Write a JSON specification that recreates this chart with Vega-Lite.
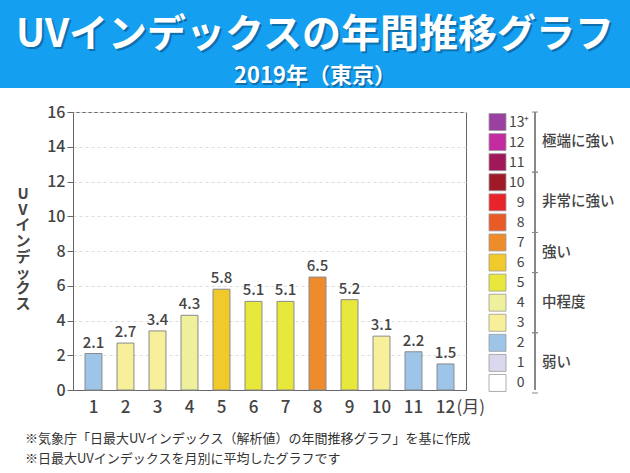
{
  "$schema": "https://vega.github.io/schema/vega-lite/v6.json",
  "background": "white",
  "padding": 0,
  "spacing": 14,
  "config": {"view": {"stroke": null}, "font": "Noto Sans CJK JP"},
  "title": {
    "text": ["※気象庁「日最大UVインデックス（解析値）の年間推移グラフ」を基に作成", "※日最大UVインデックスを月別に平均したグラフです"],
    "orient": "bottom", "anchor": "start", "frame": "group", "dx": 25, "offset": 17,
    "fontSize": 13, "fontWeight": "normal", "color": "#333", "lineHeight": 20
  },
  "datasets": {
    "levels": [
      {"level": 0, "group": "弱い"}, {"level": 1, "group": "弱い"}, {"level": 2, "group": "弱い"},
      {"level": 3, "group": "中程度"}, {"level": 4, "group": "中程度"}, {"level": 5, "group": "中程度"},
      {"level": 6, "group": "強い"}, {"level": 7, "group": "強い"},
      {"level": 8, "group": "非常に強い"}, {"level": 9, "group": "非常に強い"}, {"level": 10, "group": "非常に強い"},
      {"level": 11, "group": "極端に強い"}, {"level": 12, "group": "極端に強い"}, {"level": 13, "group": "極端に強い"}
    ],
    "months": [
      {"month": 1, "uv": 2.1, "level": 2}, {"month": 2, "uv": 2.7, "level": 3}, {"month": 3, "uv": 3.4, "level": 3},
      {"month": 4, "uv": 4.3, "level": 4}, {"month": 5, "uv": 5.8, "level": 6}, {"month": 6, "uv": 5.1, "level": 5},
      {"month": 7, "uv": 5.1, "level": 5}, {"month": 8, "uv": 6.5, "level": 7}, {"month": 9, "uv": 5.2, "level": 5},
      {"month": 10, "uv": 3.1, "level": 3}, {"month": 11, "uv": 2.2, "level": 2}, {"month": 12, "uv": 1.5, "level": 2}
    ]
  },
  "vconcat": [
    {
      "width": 630, "height": 88,
      "view": {"fill": "#149ff0", "stroke": null},
      "data": {"values": [{"row": 1, "text": "UVインデックスの年間推移グラフ"}, {"row": 2, "text": "2019年（東京）"}]},
      "encoding": {
        "y": {"field": "row", "type": "quantitative", "scale": {"domain": [0.17, 2.28], "zero": false, "nice": false, "reverse": true}, "axis": null},
        "text": {"field": "text"}
      },
      "layer": [
        {"transform": [{"filter": "datum.row == 1"}], "mark": {"type": "text", "baseline": "middle", "fontSize": 39, "fontWeight": "bold", "color": "#0a4a78", "opacity": 0.55, "dx": 2, "dy": 2}},
        {"transform": [{"filter": "datum.row == 1"}], "mark": {"type": "text", "baseline": "middle", "fontSize": 39, "fontWeight": "bold", "color": "white"}},
        {"transform": [{"filter": "datum.row == 2"}], "mark": {"type": "text", "baseline": "middle", "fontSize": 22, "fontWeight": "bold", "color": "#0a4a78", "opacity": 0.55, "dx": 1.5, "dy": 1.5}},
        {"transform": [{"filter": "datum.row == 2"}], "mark": {"type": "text", "baseline": "middle", "fontSize": 22, "fontWeight": "bold", "color": "white"}}
      ]
    },
    {
      "spacing": 0,
      "hconcat": [
        {
          "width": 46, "height": 278,
          "data": {"values": [{"t": "UVインデックス"}]},
          "mark": {"type": "text", "baseline": "middle", "fontSize": 15, "fontWeight": "bold", "color": "#444", "lineHeight": 15.7, "dy": -57},
          "encoding": {"text": {"value": ["U", "V", "イ", "ン", "デ", "ッ", "ク", "ス"]}}
        },
        {
          "width": 393, "height": 278,
          "view": {"stroke": "#666", "strokeWidth": 1},
          "data": {"name": "months"},
          "encoding": {
            "x": {"field": "month", "type": "ordinal", "scale": {"paddingInner": 0.47, "paddingOuter": 0.375},
              "axis": {"title": "(月)", "labelAngle": 0, "ticks": false, "domainColor": "#666", "labelFontSize": 17, "labelColor": "#444", "labelFontWeight": 500, "labelPadding": 9,
                "titleX": 383, "titleY": 17, "titleAlign": "left", "titleBaseline": "middle", "titleFontSize": 17, "titleFontWeight": "normal", "titleColor": "#444"}},
            "y": {"field": "uv", "type": "quantitative", "scale": {"domain": [0, 16], "nice": false},
              "axis": {"values": [0, 2, 4, 6, 8, 10, 12, 14, 16], "tickCount": 9, "labelOverlap": false, "title": null, "grid": true, "gridDash": [3, 3], "gridColor": "#dcdcdc", "domainColor": "#666", "tickColor": "#666", "tickSize": 6, "labelPadding": 2, "labelFontSize": 16, "labelColor": "#444", "labelFontWeight": 500}}
          },
          "layer": [
            {
              "mark": {"type": "bar", "stroke": "#8a8a8a", "strokeWidth": 1},
              "encoding": {
                "color": {"field": "level", "type": "ordinal",
                  "scale": {"domain": [0, 1, 2, 3, 4, 5, 6, 7, 8, 9, 10, 11, 12, 13], "range": ["#ffffff", "#d9d8ee", "#9ec4e8", "#f7ef9a", "#eef09c", "#e8e83c", "#f2c92a", "#ee8c2c", "#e85b26", "#e8232a", "#9e1a26", "#a0185a", "#c22ca0", "#9a40a0"]},
                  "legend": null}
              }
            },
            {
              "mark": {"type": "text", "baseline": "bottom", "dy": -3, "fontSize": 15, "color": "#444", "fontWeight": 500},
              "encoding": {
                "text": {"field": "uv", "type": "quantitative", "format": ".1f"}
              }
            }
          ]
        },
        {
          "spacing": 3,
          "hconcat": [
            {
              "width": 25, "height": 278,
              "data": {"name": "levels"},
              "mark": {"type": "square", "size": 289, "filled": true, "opacity": 1, "stroke": "#9a9a9a", "strokeWidth": 0.8},
              "encoding": {
                "y": {"field": "level", "type": "quantitative", "scale": {"domain": [-0.35, 13.5], "zero": false, "nice": false},
                  "axis": {"orient": "right", "values": [0, 1, 2, 3, 4, 5, 6, 7, 8, 9, 10, 11, 12, 13], "labelOverlap": false, "labelExpr": "datum.value == 13 ? '13⁺' : datum.value", "ticks": false, "domain": false, "grid": false, "title": null, "labelAlign": "right",
                    "labelPadding": {"condition": {"test": "datum.value == 13", "value": 19}, "value": 14},
                    "labelFontSize": 14, "labelColor": "#444", "labelBaseline": "middle"}},
                "color": {"field": "level", "type": "ordinal",
                  "scale": {"domain": [0, 1, 2, 3, 4, 5, 6, 7, 8, 9, 10, 11, 12, 13], "range": ["#ffffff", "#d9d8ee", "#9ec4e8", "#f7ef9a", "#eef09c", "#e8e83c", "#f2c92a", "#ee8c2c", "#e85b26", "#e8232a", "#9e1a26", "#a0185a", "#c22ca0", "#9a40a0"]},
                  "legend": null}
              }
            },
            {
              "width": 80, "height": 278,
              "data": {"name": "levels"},
              "encoding": {"x": {"datum": 0, "type": "quantitative", "scale": {"domain": [0, 1]}, "axis": null}},
              "layer": [
                {"mark": {"type": "rule", "color": "#888", "strokeWidth": 1}},
                {"mark": {"type": "tick", "orient": "horizontal", "color": "#888", "thickness": 1, "size": 6, "yOffset": -10},
                  "encoding": {"y": {"aggregate": "max", "field": "level", "type": "quantitative", "scale": {"domain": [-0.35, 13.5], "zero": false, "nice": false}, "axis": null}, "detail": {"field": "group"}}},
                {"mark": {"type": "tick", "orient": "horizontal", "color": "#888", "thickness": 1, "size": 6, "yOffset": 10},
                  "encoding": {"y": {"aggregate": "min", "field": "level", "type": "quantitative", "scale": {"domain": [-0.35, 13.5], "zero": false, "nice": false}, "axis": null}, "detail": {"field": "group"}}},
                {"mark": {"type": "text", "align": "left", "baseline": "middle", "dx": 7, "fontSize": 14.5, "color": "#444", "fontWeight": 500},
                  "encoding": {"y": {"aggregate": "mean", "field": "level", "type": "quantitative", "scale": {"domain": [-0.35, 13.5], "zero": false, "nice": false}, "axis": null}, "text": {"field": "group"}}}
              ]
            }
          ]
        }
      ]
    }
  ]
}
